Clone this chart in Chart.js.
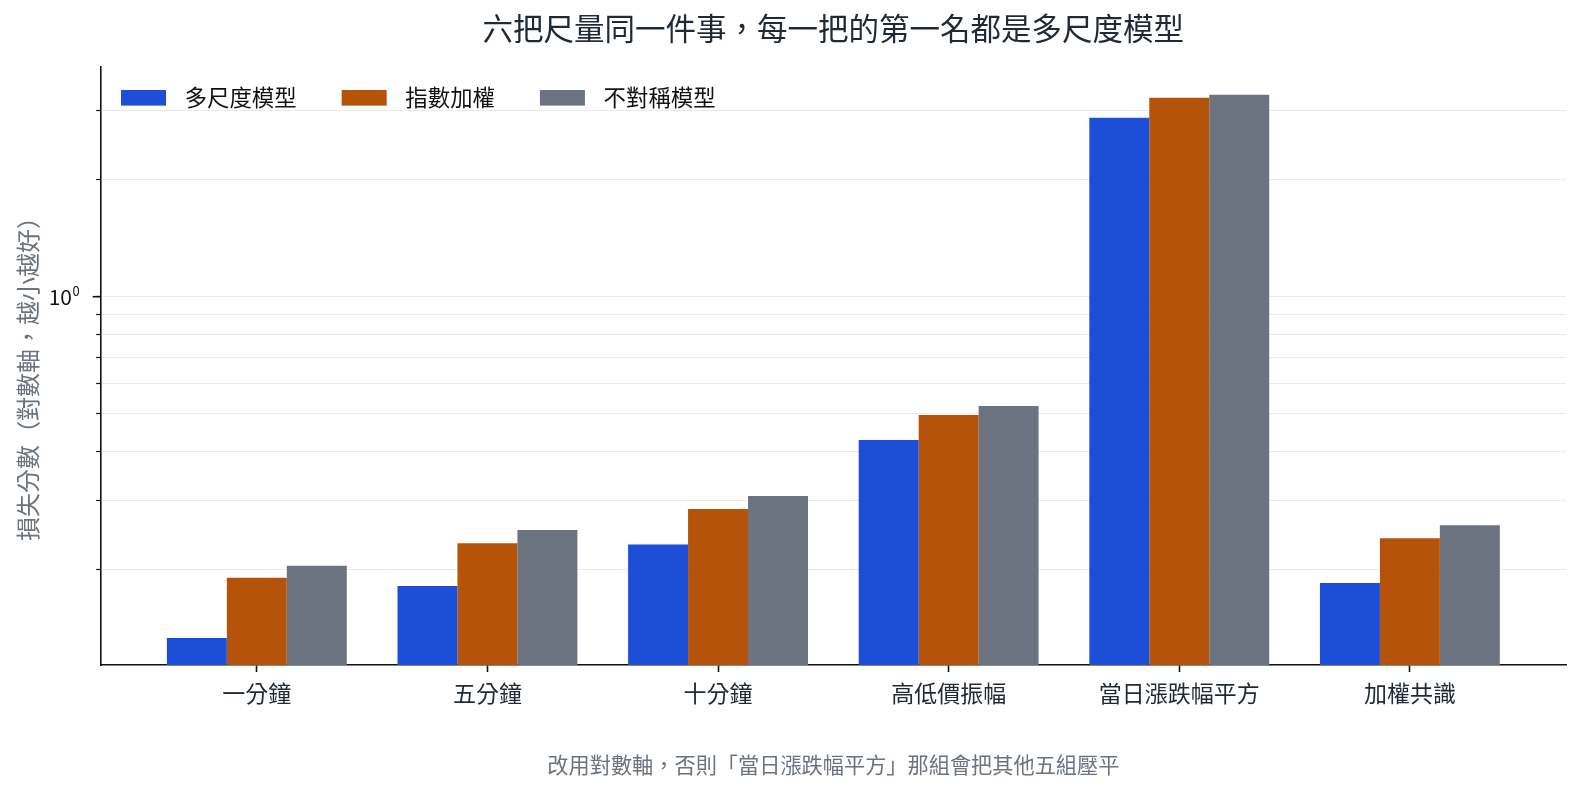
<!DOCTYPE html>
<html>
<head>
<meta charset="utf-8">
<script src="https://cdn.jsdelivr.net/npm/chart.js@4.4.1/dist/chart.umd.min.js"></script>
<style>
  html, body { margin: 0; padding: 0; background: #fff; overflow: hidden; }
  #wrap { width: 1580px; height: 793px; }
  canvas { display: block; }
</style>
</head>
<body>
<div id="wrap"><canvas id="chart"></canvas></div>
<script>
// data
const categories = ["一分鐘", "五分鐘", "十分鐘", "高低價振幅", "當日漲跌幅平方", "加權共識"];
const multiScale = [0.133, 0.181, 0.231, 0.429, 2.88, 0.184];
const expWeighted = [0.190, 0.233, 0.285, 0.497, 3.24, 0.240];
const asymmetric = [0.204, 0.252, 0.308, 0.524, 3.30, 0.259];
const seriesNames = ["多尺度模型", "指數加權", "不對稱模型"];
const yTicks = [0.2, 0.3, 0.4, 0.5, 0.6, 0.7, 0.8, 0.9, 1, 2, 3];

const titleText = "六把尺量同一件事，每一把的第一名都是多尺度模型";
const noteText = "改用對數軸，否則「當日漲跌幅平方」那組會把其他五組壓平";
const yTitleText = "損失分數（對數軸，越小越好）";

const FONT = "'Noto Sans CJK TC', 'Noto Sans', sans-serif";
const colors = ["#1d4ed8", "#b45309", "#6b7280"];

const toPoints = (arr) => arr.map((v, i) => ({ x: i, y: v }));

// title, note, y title, 10^0 label and the legend, placed like the original
const decorations = {
  id: 'decorations',
  afterDraw(chart) {
    const ctx = chart.ctx;
    const area = chart.chartArea;
    const cx = (area.left + area.right) / 2;
    ctx.save();
    ctx.textBaseline = 'middle';
    ctx.textAlign = 'center';
    ctx.font = "30.5px " + FONT;
    ctx.fillStyle = "#1f2937";
    ctx.fillText(titleText, cx, 28.5);
    ctx.font = "21.2px " + FONT;
    ctx.fillStyle = "#6b7280";
    ctx.fillText(noteText, cx, 765);

    // rotated y axis title
    ctx.save();
    ctx.translate(28, 373);
    ctx.rotate(-Math.PI / 2);
    ctx.font = "24px " + FONT;
    ctx.fillStyle = "#6b7280";
    ctx.fillText(yTitleText, 0, 0);
    ctx.restore();

    // 10^0 label with a longer major tick
    const y1 = chart.scales.y.getPixelForValue(1);
    ctx.strokeStyle = "#111";
    ctx.lineWidth = 1.6;
    ctx.beginPath();
    ctx.moveTo(area.left - 8, y1);
    ctx.lineTo(area.left, y1);
    ctx.stroke();
    ctx.fillStyle = "#111";
    ctx.textBaseline = 'alphabetic';
    ctx.textAlign = 'right';
    ctx.font = "21px " + FONT;
    ctx.fillText("10", 72, y1 + 8.5);
    ctx.textAlign = 'left';
    ctx.font = "13px " + FONT;
    ctx.fillText("0", 72.5, y1 - 0.5);

    // legend, one row inside the plot
    ctx.textBaseline = 'middle';
    ctx.font = "22.4px " + FONT;
    let x = area.left + 20.3;
    const ly = area.top + 30.8;
    chart.data.datasets.forEach((ds) => {
      ctx.fillStyle = ds.backgroundColor;
      ctx.fillRect(x, ly - 7.8, 45, 15.6);
      ctx.fillStyle = "#111";
      ctx.fillText(ds.label, x + 63.7, ly);
      x += 63.7 + ctx.measureText(ds.label).width + 45;
    });
    ctx.restore();
  }
};

const chart = new Chart(document.getElementById("chart"), {
  type: 'bar',
  data: {
    datasets: [multiScale, expWeighted, asymmetric].map((arr, k) => ({
      label: seriesNames[k],
      data: toPoints(arr),
      backgroundColor: colors[k],
      borderWidth: 0,
      categoryPercentage: 0.78,
      barPercentage: 1.0
    }))
  },
  plugins: [decorations],
  options: {
    responsive: true,
    maintainAspectRatio: false,
    animation: false,
    layout: { padding: { left: 0, right: 14, top: 67, bottom: 68 } },
    plugins: {
      legend: { display: false },
      tooltip: { enabled: false }
    },
    scales: {
      x: {
        type: 'linear',
        offset: false,
        min: -0.677,
        max: 5.677,
        afterBuildTicks: (scale) => {
          scale.ticks = categories.map((c, i) => ({ value: i }));
        },
        afterFit: (scale) => {
          scale.height = 60;
          scale.paddingLeft = 0;
          scale.paddingRight = 0;
        },
        ticks: {
          autoSkip: false,
          maxRotation: 0,
          color: "#1f2937",
          font: { family: FONT, size: 23 },
          padding: 7,
          callback: (v) => categories[v]
        },
        grid: { offset: false, drawOnChartArea: false, drawTicks: true, tickLength: 7, tickColor: "#111", tickWidth: 1.6 },
        border: { color: "#111", width: 1.6 }
      },
      y: {
        type: 'logarithmic',
        min: 0.1134,
        max: 3.887,
        z: 1,
        afterBuildTicks: (scale) => {
          scale.ticks = yTicks.map((v) => ({ value: v, major: v === 1 }));
        },
        afterFit: (scale) => {
          scale.width = 100.7;
          scale.paddingTop = 0;
          scale.paddingBottom = 0;
        },
        ticks: {
          autoSkip: false,
          display: true,
          font: { family: FONT, size: 10 },
          padding: 0,
          callback: () => ""
        },
        grid: {
          color: "rgba(200, 200, 200, 0.38)",
          lineWidth: 1,
          tickLength: 4.5,
          tickColor: "#111",
          tickWidth: 1.2
        },
        border: { color: "#111", width: 1.6 },
        title: { display: false }
      }
    }
  }
});
</script>
</body>
</html>
